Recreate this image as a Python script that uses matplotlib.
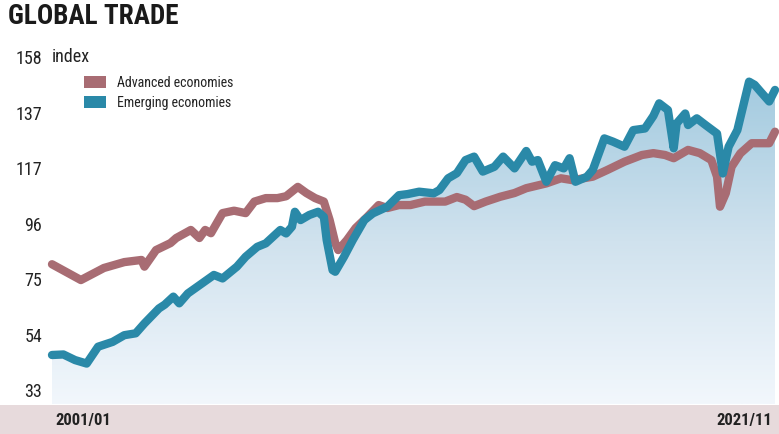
import numpy as np
import pandas as pd
import matplotlib
matplotlib.use("Agg")
import matplotlib.pyplot as plt
import matplotlib.dates as mdates
from matplotlib.colors import LinearSegmentedColormap
from matplotlib.patches import Patch, Rectangle

FONT = ['Liberation Sans Narrow', 'Roboto Condensed', 'DejaVu Sans']

title = "GLOBAL TRADE"
unit_label = "index"
series_names = ["Advanced economies", "Emerging economies"]
x_labels = ["2001/01", "2021/11"]
y_tick_labels = ["33", "54", "75", "96", "117", "137", "158"]
y_tick_min, y_tick_max = 33.6, 158.0

adv_dates = ["2001-01", "2001-11", "2002-07", "2003-02", "2003-08", "2003-09", "2004-01",
             "2004-06", "2004-08", "2004-11", "2005-01", "2005-04", "2005-06", "2005-08",
             "2005-12", "2006-04", "2006-08", "2006-11", "2007-03", "2007-07", "2007-10",
             "2008-02", "2008-05", "2008-08", "2008-11", "2009-01", "2009-03", "2009-04",
             "2009-07", "2009-10", "2010-02", "2010-06", "2010-09", "2011-01", "2011-05",
             "2011-10", "2012-05", "2012-09", "2012-12", "2013-03", "2013-07", "2013-12",
             "2014-05", "2014-09", "2015-04", "2015-09", "2016-01", "2016-08", "2017-01",
             "2017-07", "2018-01", "2018-05", "2018-09", "2018-12", "2019-05", "2019-09",
             "2020-01", "2020-03", "2020-04", "2020-06", "2020-08", "2020-11", "2021-03",
             "2021-06", "2021-09", "2021-11"]
adv_values = [80.6, 74.7, 79.2, 81.4, 82.2, 79.7, 85.9,
              88.5, 90.4, 92.2, 93.4, 90.4, 93.4, 92.2,
              99.7, 100.6, 99.7, 104.0, 105.3, 105.3, 106.0,
              109.5, 107.2, 105.3, 104.0, 97.1, 88.5, 85.9,
              89.6, 94.1, 98.3, 102.7, 101.6, 102.7, 102.7,
              104.0, 104.0, 105.7, 104.7, 102.3, 104.0, 105.8,
              107.2, 109.0, 110.8, 112.7, 112.0, 113.3, 115.8,
              118.9, 121.4, 122.1, 121.4, 120.2, 123.3, 122.1,
              119.5, 113.3, 102.1, 107.1, 117.0, 122.0, 125.8,
              125.8, 125.8, 130.1]

emg_dates = ["2001-01", "2001-05", "2001-09", "2002-01", "2002-05", "2002-10", "2003-02",
             "2003-06", "2003-09", "2004-02", "2004-04", "2004-07", "2004-09", "2004-12",
             "2005-05", "2005-09", "2005-12", "2006-05", "2006-08", "2006-12", "2007-03",
             "2007-08", "2007-10", "2007-12", "2008-01", "2008-03", "2008-06", "2008-09",
             "2008-11", "2008-12", "2009-02", "2009-03", "2009-06", "2009-09", "2010-01",
             "2010-04", "2010-09", "2011-01", "2011-04", "2011-08", "2012-01", "2012-03",
             "2012-06", "2012-09", "2012-12", "2013-03", "2013-06", "2013-10", "2014-01",
             "2014-05", "2014-09", "2014-11", "2015-01", "2015-04", "2015-07", "2015-10",
             "2015-12", "2016-02", "2016-06", "2016-08", "2016-12", "2017-03", "2017-07",
             "2017-10", "2018-02", "2018-05", "2018-07", "2018-10", "2018-12", "2019-01",
             "2019-04", "2019-05", "2019-08", "2019-11", "2020-03", "2020-05", "2020-07",
             "2020-10", "2021-02", "2021-04", "2021-06", "2021-09", "2021-11"]
emg_values = [46.7, 46.9, 44.8, 43.5, 49.8, 51.6, 54.1,
              54.8, 58.5, 64.1, 65.5, 68.5, 66.0, 69.7,
              73.5, 76.6, 75.3, 79.7, 83.4, 87.1, 88.4,
              93.4, 92.1, 94.6, 100.2, 97.1, 99.0, 100.2,
              98.3, 89.6, 78.4, 77.8, 83.4, 89.6, 97.1,
              99.6, 102.1, 106.4, 106.8, 107.7, 107.1, 108.3,
              112.7, 114.6, 119.5, 120.8, 115.2, 117.0, 120.8,
              116.4, 122.9, 118.9, 119.5, 111.4, 117.6, 116.4,
              120.2, 111.4, 113.3, 115.8, 127.6, 126.4, 124.5,
              130.7, 131.3, 136.0, 140.7, 138.2, 123.9, 133.2,
              136.9, 132.6, 135.1, 132.6, 129.4, 114.5, 124.5,
              130.7, 148.8, 147.6, 145.1, 141.4, 145.7]

ADV_COLOR = "#a86c73"
EMG_COLOR = "#2a89a8"
W, H = 779, 434

fig = plt.figure(figsize=(W / 100, H / 100), dpi=100)
fig.patch.set_facecolor("white")

ymin, ymax = 28.4, 162.0
ax = fig.add_axes([52 / W, 1 - 404 / H, (775 - 52) / W, (404 - 46.3) / H])
ax.set_facecolor("none")

xa = mdates.date2num(pd.to_datetime(adv_dates, format="%Y-%m"))
xe = mdates.date2num(pd.to_datetime(emg_dates, format="%Y-%m"))
x0, x1 = xe.min(), xe.max()

# gradient fill under emerging economies
cmap = LinearSegmentedColormap.from_list("g", ["#f2f7fc", "#d0e2ee", "#a2cadf"])
grad = np.linspace(0, 1, 256).reshape(-1, 1)
im = ax.imshow(grad, extent=[x0, x1, ymin, 150], origin="lower", aspect="auto",
               cmap=cmap, zorder=1, interpolation="bilinear")
poly = ax.fill_between(xe, emg_values, ymin, facecolor="none", edgecolor="none")
im.set_clip_path(poly.get_paths()[0], transform=ax.transData)
ax.set_xlim(x0, x1)
ax.set_ylim(ymin, ymax)

ax.plot(xa, adv_values, color=ADV_COLOR, lw=6, solid_capstyle="round",
        solid_joinstyle="round", zorder=3, clip_on=False)
ax.plot(xe, emg_values, color=EMG_COLOR, lw=6, solid_capstyle="round",
        solid_joinstyle="round", zorder=4, clip_on=False)

for s in ax.spines.values():
    s.set_visible(False)
ax.set_xticks([])
ax.set_yticks(np.linspace(y_tick_min, y_tick_max, len(y_tick_labels)))
ax.set_yticklabels(y_tick_labels, family=FONT, fontsize=13, color="#222222")
ax.tick_params(axis="y", length=0, pad=7)
ax.text(0.0, y_tick_max, unit_label, transform=ax.get_yaxis_transform(),
        ha="left", va="center", family=FONT, fontsize=13, color="#222222")

handles = [Patch(facecolor=ADV_COLOR, edgecolor="none"),
           Patch(facecolor=EMG_COLOR, edgecolor="none")]
leg = ax.legend(handles, series_names, loc="upper left",
                bbox_to_anchor=(84 / W, 1 - 76 / H), bbox_transform=fig.transFigure,
                frameon=False, prop={"family": FONT, "size": 10},
                handlelength=1.6, handleheight=0.95, handletextpad=0.75,
                labelspacing=0.45, borderpad=0, borderaxespad=0)
for t in leg.get_texts():
    t.set_color("#222222")

fig.text(8 / W, 1 - 3 / H, title, ha="left", va="top", family=FONT,
         fontsize=19.5, fontweight="bold", color="#1a1a1a")

fig.patches.append(Rectangle((0, 0), 1, 29 / H, transform=fig.transFigure,
                             facecolor="#e7dadc", edgecolor="none", zorder=0))
fig.text(55 / W, 1 - 420 / H, x_labels[0], ha="left", va="center", family=FONT,
         fontsize=12, fontweight="bold", color="#222222")
fig.text(772 / W, 1 - 420 / H, x_labels[1], ha="right", va="center", family=FONT,
         fontsize=12, fontweight="bold", color="#222222")

fig.savefig("out.png", dpi=100)
